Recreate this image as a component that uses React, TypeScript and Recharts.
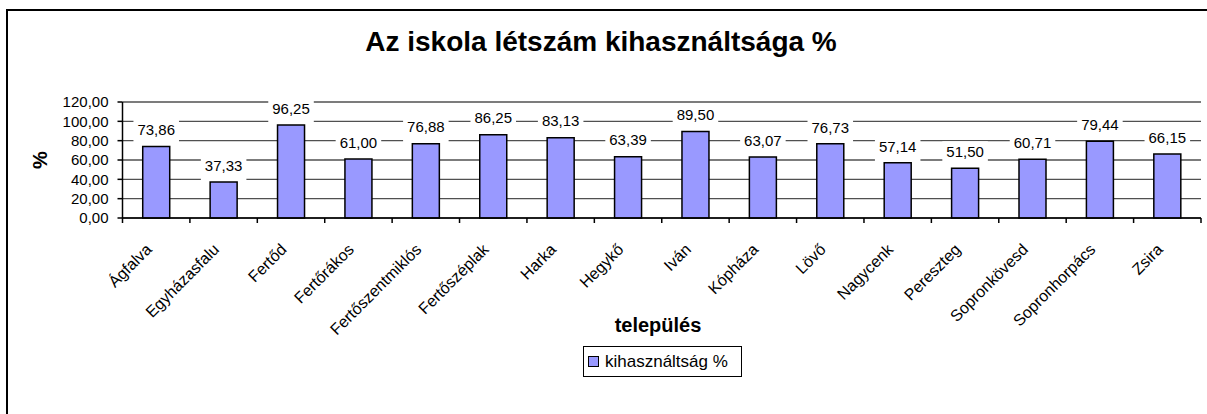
import React from 'react';
import { BarChart, Bar, XAxis, YAxis, CartesianGrid, LabelList } from 'recharts';

const categories = ['Ágfalva', 'Egyházasfalu', 'Fertőd', 'Fertőrákos', 'Fertőszentmiklós', 'Fertőszéplak', 'Harka', 'Hegykő', 'Iván', 'Kópháza', 'Lövő', 'Nagycenk', 'Pereszteg', 'Sopronkövesd', 'Sopronhorpács', 'Zsira'];
const values = [73.86, 37.33, 96.25, 61.0, 76.88, 86.25, 83.13, 63.39, 89.5, 63.07, 76.73, 57.14, 51.5, 60.71, 79.44, 66.15];
const yTicks = [0, 20, 40, 60, 80, 100, 120];
const seriesName = 'kihasználtság %';
const chartTitle = 'Az iskola létszám kihasználtsága %';
const xTitle = 'település';
const yTitle = '%';

const data = categories.map((c, i) => ({ name: c, v: values[i] }));

const FONT = '"Liberation Sans", Arial, sans-serif';
const fmt = (v: number) => v.toFixed(2).replace('.', ',');

const textWidth = (s: string, size: number) => {
  let w = 0;
  for (const ch of s) w += ch === ',' || ch === '.' ? 0.278 : 0.556;
  return w * size;
};

const ValueLabel = (props: any) => {
  const { x, y, width, value } = props;
  const cx = Number(x) + Number(width) / 2;
  const txt = fmt(Number(value));
  const w = textWidth(txt, 15) + 8;
  return (
    <g>
      <rect x={cx - w / 2} y={Number(y) - 27} width={w} height={25.3} fill="#ffffff" />
      <text x={cx} y={Number(y) - 16.5} dy="0.35em" textAnchor="middle" fontSize={15} fontFamily={FONT} fill="#000">
        {txt}
      </text>
    </g>
  );
};

const XTick = (props: any) => {
  const { x, y, payload, index, visibleTicksCount } = props;
  const half = payload && typeof payload.offset === 'number' && payload.offset > 0 ? payload.offset : 33.7;
  const axisY = y - 5;
  const isLast = index === (visibleTicksCount ?? categories.length) - 1;
  return (
    <g>
      <line x1={x - half} x2={x - half} y1={axisY} y2={axisY + 5} stroke="#000" strokeWidth={1.5} />
      {isLast && <line x1={x + half} x2={x + half} y1={axisY} y2={axisY + 5} stroke="#000" strokeWidth={1.5} />}
      <text
        transform={`translate(${x - 3.5}, ${y + 27.5}) rotate(-45)`}
        textAnchor="end"
        fontSize={16}
        fontFamily={FONT}
        fill="#000"
      >
        {payload.value}
      </text>
    </g>
  );
};

export default function App() {
  return (
    <div style={{ position: 'absolute', left: 0, top: 0, width: 1207, height: 414, overflow: 'hidden', background: '#fff', fontFamily: FONT }}>
      <div style={{ position: 'absolute', left: 6, top: 9, width: 1400, height: 600, border: '2px solid #000', boxSizing: 'border-box' }} />
      <div style={{ position: 'absolute', left: 0, top: 0 }}>
        <BarChart width={1207} height={414} data={data} margin={{ top: 102, right: 6, left: 62.5, bottom: 96 }} barCategoryGap="30%">
          <CartesianGrid vertical={false} stroke="#505050" strokeWidth={1.3} />
          <XAxis
            dataKey="name"
            interval={0}
            height={100}
            tickSize={5}
            tickMargin={0}
            tickLine={{ stroke: 'none' }}
            axisLine={{ stroke: '#000', strokeWidth: 1.5 }}
            tick={<XTick />}
          />
          <YAxis
            domain={[0, 120]}
            ticks={yTicks}
            interval={0}
            width={60}
            tickSize={5}
            tickMargin={9}
            tickFormatter={fmt}
            tick={{ fontSize: 15, fill: '#000', fontFamily: FONT }}
            tickLine={{ stroke: '#000', strokeWidth: 1.5 }}
            axisLine={{ stroke: '#000', strokeWidth: 1.5 }}
          />
          <YAxis
            yAxisId="r"
            orientation="right"
            domain={[0, 120]}
            ticks={yTicks}
            width={0}
            tick={false}
            tickLine={false}
            axisLine={{ stroke: '#808080', strokeWidth: 1.5 }}
          />
          <Bar dataKey="v" name={seriesName} fill="#9999ff" stroke="#000" strokeWidth={1.5} isAnimationActive={false}>
            <LabelList dataKey="v" content={ValueLabel} />
          </Bar>
        </BarChart>
      </div>
      <div style={{ position: 'absolute', left: 0, width: 1202, top: 28, textAlign: 'center', fontSize: 28, fontWeight: 'bold', lineHeight: '28px', color: '#000' }}>
        {chartTitle}
      </div>
      <div style={{ position: 'absolute', left: 558, width: 200, top: 315, textAlign: 'center', fontSize: 20, fontWeight: 'bold', lineHeight: '20px', color: '#000' }}>
        {xTitle}
      </div>
      <div style={{ position: 'absolute', left: 19.5, width: 40, top: 150, height: 20, textAlign: 'center', fontSize: 20, fontWeight: 'bold', lineHeight: '20px', color: '#000', transform: 'rotate(-90deg)', transformOrigin: 'center' }}>
        {yTitle}
      </div>
      <div style={{ position: 'absolute', left: 583, top: 346, width: 159, height: 31, border: '1px solid #000', boxSizing: 'border-box', background: '#fff' }}>
        <div style={{ position: 'absolute', left: 4, top: 9, width: 11, height: 11, background: '#9999ff', border: '1px solid #000', boxSizing: 'border-box' }} />
        <div style={{ position: 'absolute', left: 21, top: 6, fontSize: 17, lineHeight: '17px', whiteSpace: 'nowrap', color: '#000' }}>{seriesName}</div>
      </div>
    </div>
  );
}
